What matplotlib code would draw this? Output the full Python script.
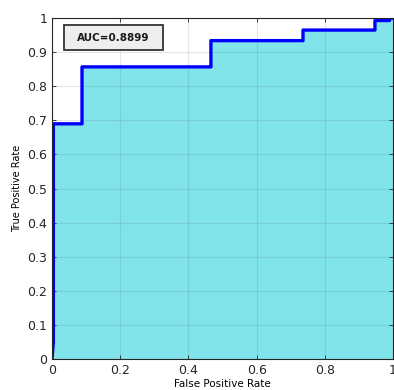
import matplotlib
matplotlib.use("Agg")
import matplotlib.pyplot as plt
from matplotlib.patches import Rectangle

# ROC step points
fpr = [0.0, 0.004, 0.004, 0.088, 0.088, 0.466, 0.466, 0.736, 0.736, 0.947, 0.947, 0.99, 0.99, 1.0]
tpr = [0.0, 0.05, 0.69, 0.69, 0.857, 0.857, 0.934, 0.934, 0.965, 0.965, 0.993, 0.993, 1.0, 1.0]
auc_text = "AUC=0.8899"
ticks = [0, 0.1, 0.2, 0.3, 0.4, 0.5, 0.6, 0.7, 0.8, 0.9, 1]
xticks = [0, 0.2, 0.4, 0.6, 0.8, 1]

fig = plt.figure(figsize=(3.94, 3.90), dpi=100)
ax = fig.add_axes([0.132, 0.0795, 0.8655, 0.874])

ax.fill_between(fpr, tpr, 0, color="#80e4ea", linewidth=0, zorder=1)
ax.plot(fpr, tpr, color="blue", linewidth=2.4, zorder=3)

ax.set_xlim(0, 1)
ax.set_ylim(0, 1)
ax.set_xticks(xticks)
ax.set_yticks(ticks)
ax.set_xticklabels(["0", "0.2", "0.4", "0.6", "0.8", "1"])
ax.set_yticklabels(["0", "0.1", "0.2", "0.3", "0.4", "0.5", "0.6", "0.7", "0.8", "0.9", "1"])
ax.tick_params(direction="in", length=3, labelsize=9, labelcolor="#262626",
               top=True, right=True, width=0.6, color="#262626")
ax.grid(True, color="#5a5a5a", alpha=0.15, linewidth=0.8, zorder=2)
ax.set_axisbelow(False)
for s in ax.spines.values():
    s.set_linewidth(0.8)
    s.set_color("#262626")
    s.set_zorder(4)

ax.set_xlabel("False Positive Rate", fontsize=7.5, labelpad=1.5)
ax.set_ylabel("True Positive Rate", fontsize=7, labelpad=4)

# AUC annotation box
box = Rectangle((0.035, 0.906), 0.291, 0.073, transform=ax.transAxes,
                facecolor="#eeeeee", edgecolor="#333333", linewidth=1.3, zorder=5)
ax.add_patch(box)
ax.text(0.18, 0.943, auc_text, transform=ax.transAxes, fontsize=7.5, fontweight="bold",
        va="center", ha="center", zorder=6, color="#1a1a1a")

fig.savefig("out.png", dpi=100)
